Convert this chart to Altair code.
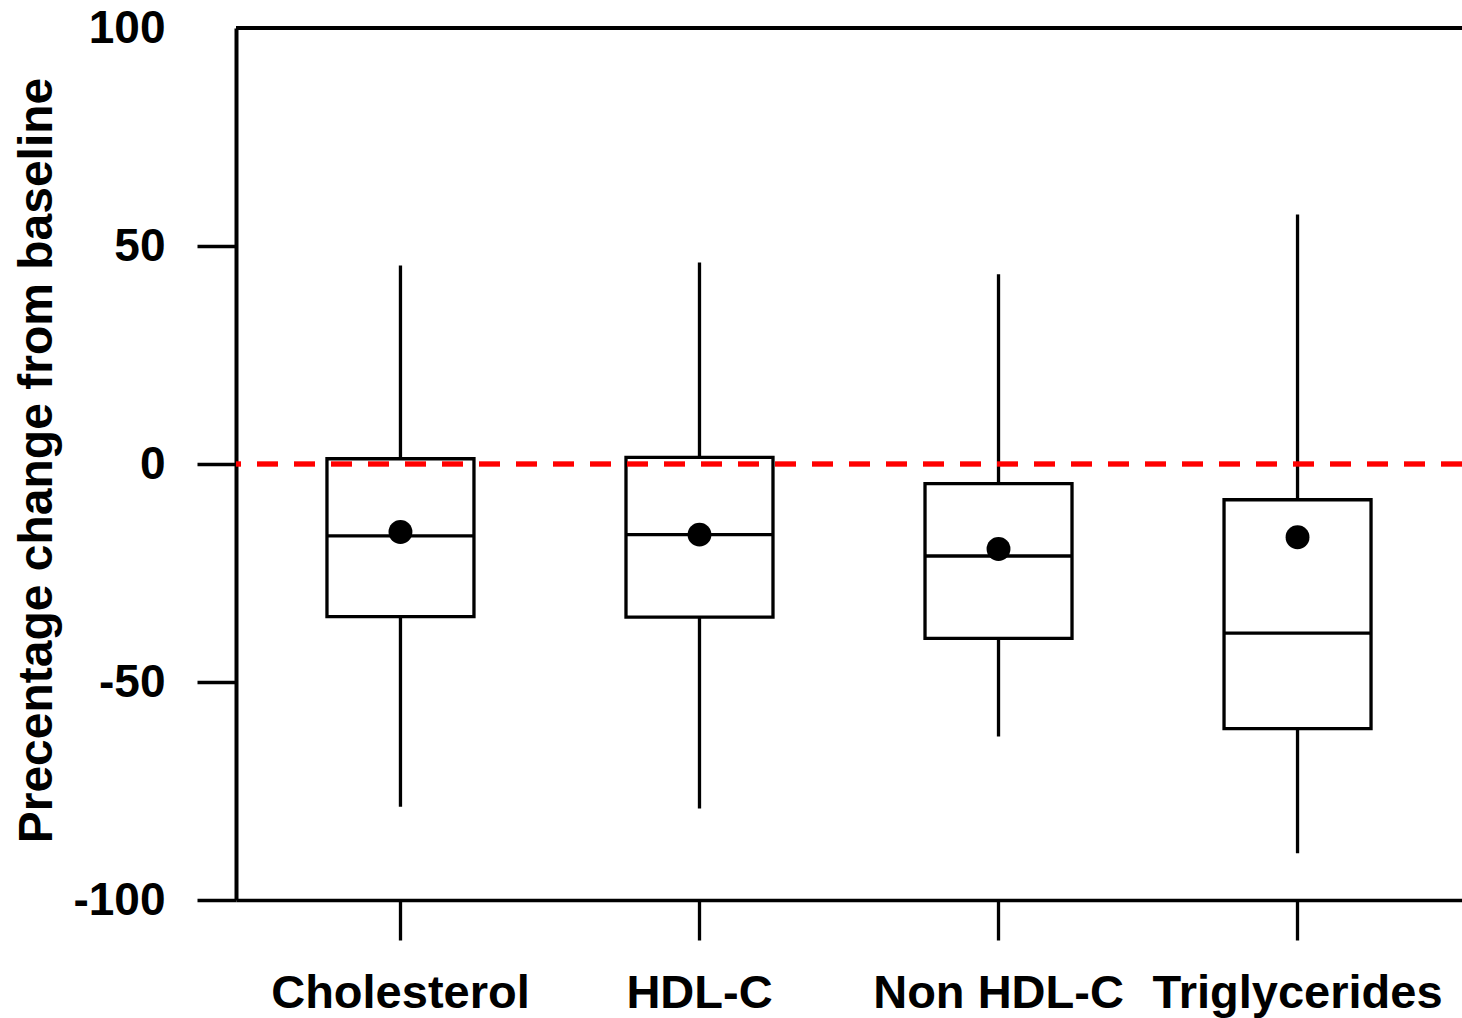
import altair as alt
import pandas as pd

# Percentage change from baseline for each lipid measure
categories = ["Cholesterol", "HDL-C", "Non HDL-C", "Triglycerides"]
whisker_low = [-78.6, -79.0, -62.5, -89.3]
quartile_1 = [-35.0, -35.1, -40.0, -60.7]
medians = [-16.5, -16.2, -21.1, -38.8]
quartile_3 = [1.2, 1.5, -4.5, -8.2]
whisker_high = [45.5, 46.2, 43.5, 57.2]
means = [-15.6, -16.2, -19.5, -16.8]

y_ticks = [-100, -50, 0, 50, 100]

df = pd.DataFrame({
    "category": categories,
    "lo": whisker_low,
    "q1": quartile_1,
    "median": medians,
    "q3": quartile_3,
    "hi": whisker_high,
    "mean": means,
})

FONT = "Liberation Sans"
LINE_W = 3.3

x_enc = alt.X(
    "category:N",
    sort=categories,
    scale=alt.Scale(paddingInner=0, paddingOuter=0.05),
    axis=alt.Axis(
        title=None,
        labelAngle=0,
        labelFont=FONT,
        labelFontSize=47,
        labelFontWeight="bold",
        labelColor="black",
        labelPadding=30,
        labelLimit=0,
        tickSize=40,
        tickWidth=LINE_W,
        tickColor="black",
        domainWidth=LINE_W,
        domainColor="black",
    ),
)

y_scale = alt.Scale(domain=[-100, 100], nice=False, zero=False)

y_axis = alt.Axis(
    title="Precentage change from baseline",
    titleFont=FONT,
    titleFontSize=48,
    titleFontWeight="bold",
    titleColor="black",
    titleAngle=-90,
    titleX=-185,
    titleY=432,
    titleAlign="center",
    titleBaseline="alphabetic",
    values=y_ticks,
    labelExpr="'' + datum.value",
    labelFont=FONT,
    labelFontSize=46,
    labelFontWeight="bold",
    labelColor="black",
    labelPadding=32,
    labelFlush=False,
    labelOverlap=False,
    tickSize=39,
    tickWidth=LINE_W,
    tickColor="black",
    tickOpacity={"condition": {"test": "datum.value == 100", "value": 0}, "value": 1},
    domainWidth=4,
    domainColor="black",
    grid=False,
)

base = alt.Chart(df)

whiskers = base.mark_rule(color="black", strokeWidth=LINE_W).encode(
    x=x_enc,
    y=alt.Y("lo:Q", scale=y_scale, axis=y_axis),
    y2="hi:Q",
)

boxes = base.mark_bar(
    size=147, fill="white", stroke="black", strokeWidth=LINE_W, opacity=1
).encode(
    x=x_enc,
    y=alt.Y("q1:Q", scale=y_scale),
    y2="q3:Q",
)

median_ticks = base.mark_tick(
    color="black", size=147, thickness=LINE_W, orient="horizontal", opacity=1
).encode(
    x=x_enc,
    y=alt.Y("median:Q", scale=y_scale),
)

mean_dots = base.mark_circle(color="black", opacity=1, size=570).encode(
    x=x_enc,
    y=alt.Y("mean:Q", scale=y_scale),
)

zero_line = alt.Chart(df).mark_rule(
    color="#ff0000", strokeWidth=4.5, strokeDash=[21, 16]
).encode(y=alt.datum(0, scale=y_scale))

top_border = alt.Chart(df).mark_rule(color="black", strokeWidth=4).encode(
    y=alt.datum(100, scale=y_scale)
)

chart = (
    alt.layer(whiskers, boxes, median_ticks, mean_dots, zero_line, top_border)
    .properties(
        width=1226,
        height=872,
        autosize=alt.AutoSizeParams(type="none"),
        padding={"left": 236, "top": 28, "right": 0, "bottom": 118},
        background="white",
    )
    .configure_view(stroke=None)
)

chart.save("out.html", embed_options={"renderer": "svg", "actions": False})
